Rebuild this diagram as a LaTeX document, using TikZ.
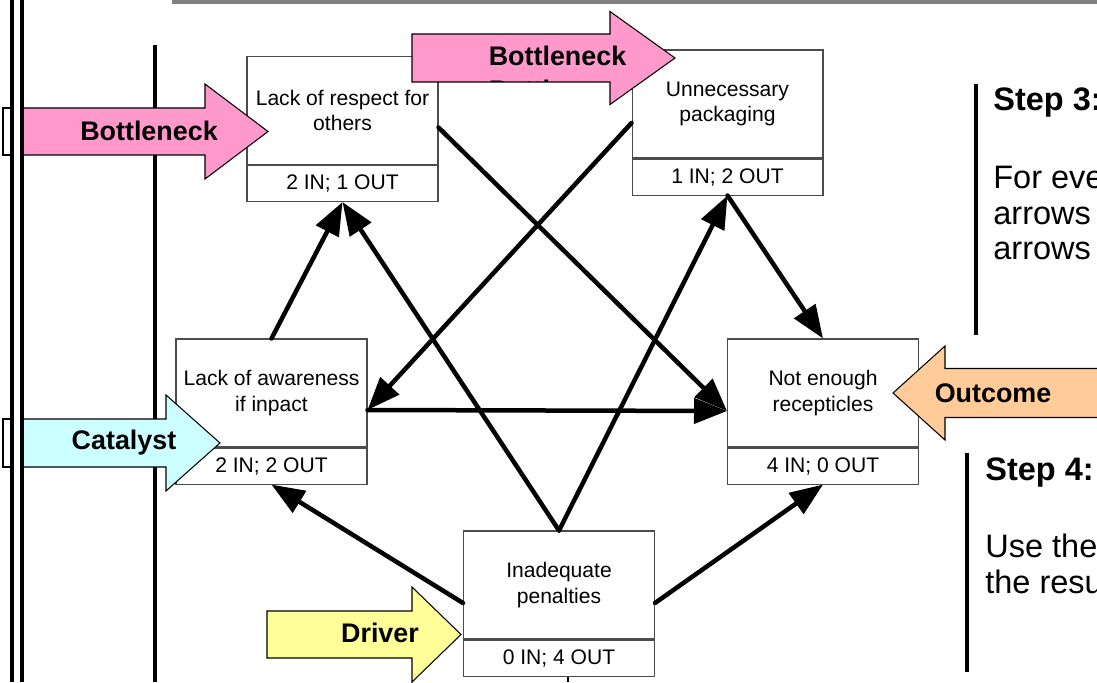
\documentclass[tikz,border=0pt]{standalone}
\usepackage{fontspec}
\setmainfont{Liberation Sans}
\usepackage{xcolor}
\usetikzlibrary{arrows.meta,positioning,calc}
\definecolor{pinkarr}{HTML}{FF99CC}
\definecolor{cyanarr}{HTML}{CCFFFF}
\definecolor{yellowarr}{HTML}{FFFF99}
\definecolor{orangearr}{HTML}{FFCC99}

\begin{document}
\begin{tikzpicture}[
  x=0.02cm, y=-0.02cm,
  font=\fontsize{12}{14.7}\selectfont,
  cause/.style={draw=black!70, line width=0.6pt, fill=white, minimum width=3.82cm, minimum height=2.16cm, align=center, inner sep=0pt},
  tally/.style={draw=black!70, line width=0.6pt, fill=white, minimum width=3.82cm, minimum height=0.72cm, inner sep=0pt, below=0pt of #1},
  link/.style={line width=0.09cm, line cap=round, -{Triangle[length=0.66cm,width=0.5cm]}},
  tag/.style={font=\fontsize{15.3}{18}\selectfont\bfseries},
  blockarr/.style={draw=black, line width=0.6pt},
  rule/.style={line width=0.065cm},
  steptxt/.style={anchor=west, align=left, inner sep=0pt, font=\fontsize{18.5}{20.2}\selectfont},
  stephead/.style={steptxt, font=\fontsize{18.5}{20.2}\selectfont\bfseries}
]
\useasboundingbox (0,0) rectangle (1097,682);

% frame lines
\draw[line width=0.08cm, gray] (172,2) -- (1097,2);
\draw[rule] (155,45) -- (155,682);
\draw[rule] (976,84) -- (976,335);
\draw[rule] (967,453) -- (967,672);
\draw[line width=0.7pt] (568,676) -- (568,682);

% cause boxes
\node[cause] (respect) at (342.5,110.5) {Lack of respect for\\others};
\node[tally=respect] (respectN) {2 IN; 1 OUT};
\node[cause] (pack) at (727.5,104) {Unnecessary\\packaging};
\node[tally=pack] (packN) {1 IN; 2 OUT};
\node[cause] (aware) at (271.5,393) {Lack of awareness\\if inpact};
\node[tally=aware] (awareN) {2 IN; 2 OUT};
\node[cause] (recep) at (823,393) {Not enough\\recepticles};
\node[tally=recep] (recepN) {4 IN; 0 OUT};
\node[cause] (penalty) at (559,585) {Inadequate\\penalties};
\node[tally=penalty] (penaltyN) {0 IN; 4 OUT};

% influences
\draw[link] (aware.north) -- (respectN.south);
\draw[link] (penalty.north) -- (respectN.south);
\draw[link] ($(respect.east)+(0,17)$) -- ($(recep.west)+(0,18)$);
\draw[link] ($(pack.west)+(0,19)$) -- ($(aware.east)+(0,17)$);
\draw[link] ($(aware.east)+(0,17)$) -- ($(recep.west)+(0,18)$);
\draw[link] (penalty.north) -- (packN.south);
\draw[link] (packN.south) -- (recep.north);
\draw[link] ($(penalty.west)+(0,18)$) -- (awareN.south);
\draw[link] ($(penalty.east)+(0,18)$) -- (recepN.south);

% block arrows
\foreach \tx/\hx/\px/\cy/\sh/\hh/\col in {3/205/268/131.5/23.5/47.5/pinkarr,412/610/675/58/24/46.5/pinkarr,3/166/220/443/24/48/cyanarr,267/412/461/634.5/23.5/47.5/yellowarr,1110/945/893/393/24.5/47/orangearr} {
  \draw[blockarr, fill=\col] (\tx,\cy-\sh) -- (\hx,\cy-\sh) -- (\hx,\cy-\hh) -- (\px,\cy) -- (\hx,\cy+\hh) -- (\hx,\cy+\sh) -- (\tx,\cy+\sh) -- cycle;
}
\node[tag] (bneckL) at (149,131) {Bottleneck};
\node[tag] (bneckT) at (557.5,56) {Bottleneck};
\begin{scope}
  \clip (412,34) rectangle (610,82);
  \node[tag] (bneckG) at (557.5,90) {Bottleneck};
\end{scope}
\node[tag] (catalyst) at (124,443) {Catalyst};
\node[tag] (driver) at (380,633) {Driver};
\node[tag] (outcome) at (993,393) {Outcome};

% left margin strip
\fill[white] (12,0) rectangle (22,682);
\draw[line width=0.065cm] (12,0) -- (12,682) (22,0) -- (22,682);
\draw[blockarr, fill=white] (3,108) rectangle (11,155);
\draw[blockarr, fill=white] (3,419) rectangle (11,467);

% step notes
\node[stephead] (step3) at (993,103) {Step 3:};
\node[steptxt] (step3txt) at (993,213) {For eve\\arrows\\arrows};
\node[stephead] (step4) at (985,473) {Step 4:};
\node[steptxt] (step4txt) at (985,564) {Use the\\the resu};
\end{tikzpicture}
\end{document}
